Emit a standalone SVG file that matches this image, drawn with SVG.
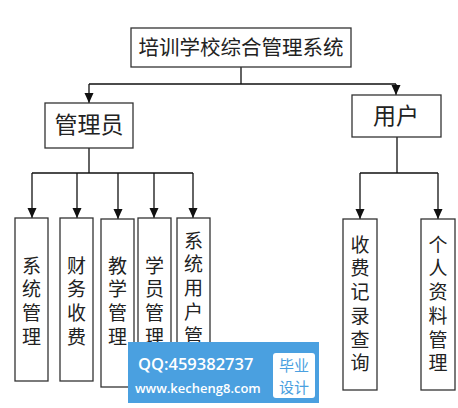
<svg xmlns="http://www.w3.org/2000/svg" width="458" height="408" viewBox="0 0 458 408">
<style>
.box{fill:#fff;stroke:#333;stroke-width:1.3}
.lbl{font-family:"Noto Sans CJK SC","Noto Sans CJK JP",sans-serif;fill:#222;text-anchor:middle}
.v{font-family:"Noto Sans CJK SC","Noto Sans CJK JP",sans-serif;fill:#222;font-size:19px;writing-mode:vertical-rl;letter-spacing:4.7px;text-anchor:start}
.con{fill:none;stroke:#111;stroke-width:1.3}
.wm{font-family:"Open Sans","DejaVu Sans",sans-serif;fill:#fff;font-weight:600}
.wb{font-family:"Noto Sans CJK SC",sans-serif;fill:#4aa0e0;font-size:15px;text-anchor:middle}
</style>
<defs>
<marker id="arr" markerUnits="userSpaceOnUse" markerWidth="12" markerHeight="12" viewBox="0 0 12 12" refX="11" refY="6" orient="auto">
<path d="M1,1.5 L11,6 L1,10.5 Z" fill="#111"/>
</marker>
</defs>
<rect width="458" height="408" fill="#fff"/>
<g id="connectors">
<path class="con" d="M241,67 V84 M89,84 H396"/>
<path class="con" d="M89,84 V103" marker-end="url(#arr)"/>
<path class="con" d="M396,84 V95" marker-end="url(#arr)"/>
<path class="con" d="M89,148 V173 M32,173 H193"/>
<path class="con" d="M32,173 V218" marker-end="url(#arr)"/>
<path class="con" d="M77,173 V218" marker-end="url(#arr)"/>
<path class="con" d="M118,173 V219" marker-end="url(#arr)"/>
<path class="con" d="M154,173 V218" marker-end="url(#arr)"/>
<path class="con" d="M193,173 V218" marker-end="url(#arr)"/>
<path class="con" d="M397,137 V173 M360,173 H438"/>
<path class="con" d="M360,173 V219" marker-end="url(#arr)"/>
<path class="con" d="M438,173 V219" marker-end="url(#arr)"/>
</g>
<g id="root">
<rect class="box" x="131" y="28" width="220" height="39"/>
<text class="lbl" x="241" y="55" font-size="20.5">培训学校综合管理系统</text>
</g>
<g id="admin">
<rect class="box" x="45" y="103" width="88" height="45"/>
<text class="lbl" x="89" y="133" font-size="23">管理员</text>
</g>
<g id="user">
<rect class="box" x="352" y="95" width="89" height="42"/>
<text class="lbl" x="396" y="124" font-size="23">用户</text>
</g>
<g id="sysmgmt">
<rect class="box" x="15" y="218" width="33" height="163"/>
<text class="v" x="31.5" y="256">系统管理</text>
</g>
<g id="finance">
<rect class="box" x="60" y="218" width="33" height="163"/>
<text class="v" x="76.5" y="256">财务收费</text>
</g>
<g id="teaching">
<rect class="box" x="101" y="219" width="33" height="168"/>
<text class="v" x="117.5" y="256">教学管理</text>
</g>
<g id="student">
<rect class="box" x="138" y="218" width="33" height="168"/>
<text class="v" x="154.5" y="256">学员管理</text>
</g>
<g id="sysuser">
<rect class="box" x="177" y="218" width="33" height="168"/>
<text class="v" x="193.5" y="231">系统用户管</text>
</g>
<g id="feequery">
<rect class="box" x="343" y="219" width="34" height="171"/>
<text class="v" x="360" y="235">收费记录查询</text>
</g>
<g id="profile">
<rect class="box" x="421" y="219" width="34" height="171"/>
<text class="v" x="438" y="235">个人资料管理</text>
</g>
<g id="watermark">
<rect x="128" y="342" width="191" height="61" fill="#4aa0e0"/>
<text class="wm" x="138" y="370" font-size="16.5">QQ:459382737</text>
<text class="wm" x="135" y="393" font-size="13">www.kecheng8.com</text>
<rect x="273" y="353" width="42" height="45" rx="3" fill="#fff"/>
<text class="wb" x="294" y="371">毕业</text>
<text class="wb" x="294" y="393">设计</text>
</g>
</svg>
